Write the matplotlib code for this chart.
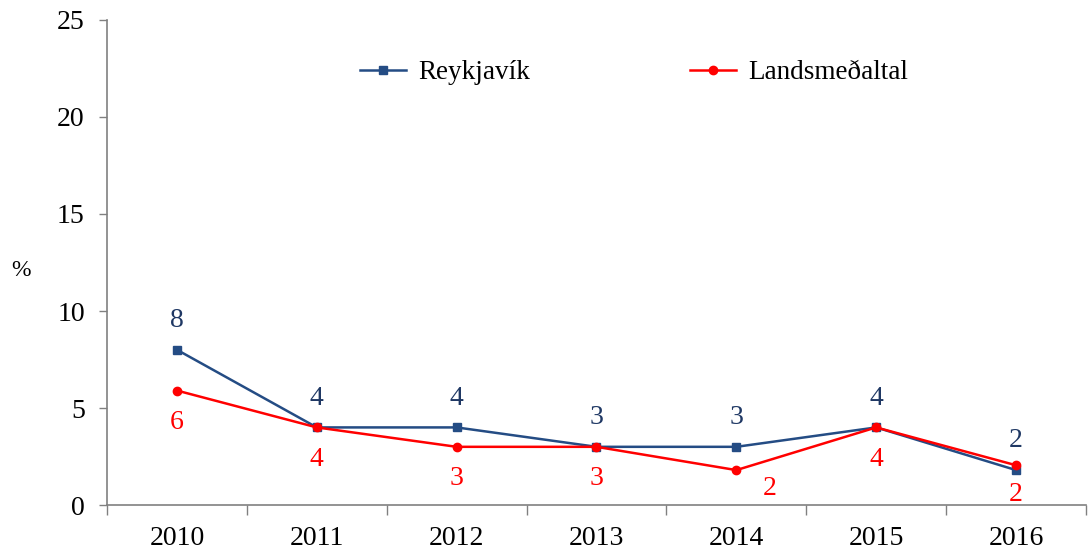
import numpy as np
import matplotlib.pyplot as plt

plt.rcParams['font.family'] = ['Liberation Serif', 'DejaVu Serif']

years = ['2010', '2011', '2012', '2013', '2014', '2015', '2016']
reykjavik = [8.0, 4.0, 4.0, 3.0, 3.0, 4.0, 1.8]
landsmedaltal = [5.9, 4.0, 3.0, 3.0, 1.8, 4.0, 2.05]
rvk_labels = ['8', '4', '4', '3', '3', '4', '2']
land_labels = ['6', '4', '3', '3', '2', '4', '2']

blue = '#244C84'
blue_txt = '#1F3864'
red = '#FF0000'

fig = plt.figure(figsize=(10.89, 5.52), dpi=100)
ax = fig.add_axes([0.0983, 0.0851, 0.8989, 0.8787])

x = np.arange(len(years))
ax.plot(x, reykjavik, color=blue, lw=1.8, marker='s', ms=6, label='Reykjavík')
ax.plot(x, landsmedaltal, color=red, lw=1.8, marker='o', ms=6, label='Landsmeðaltal')

for i in range(len(x)):
    ax.annotate(rvk_labels[i], (x[i], reykjavik[i]), xytext=(0, 12), textcoords='offset points',
                ha='center', va='bottom', fontsize=20, color=blue_txt)
    dx, dy = 0, -14
    if i == 4:
        dx, dy = 24, -4
    elif i == 6:
        dy = -12
    ax.annotate(land_labels[i], (x[i], landsmedaltal[i]), xytext=(dx, dy), textcoords='offset points',
                ha='center', va='top', fontsize=20, color=red)

ax.set_xlim(-0.5, len(years) - 0.5)
ax.set_ylim(0, 25)
ax.set_yticks([0, 5, 10, 15, 20, 25])
ax.set_xticks(x)
ax.set_xticklabels(years)
ax.set_xticks(np.arange(-0.5, len(years) + 0.5, 1), minor=True)
ax.tick_params(axis='x', which='major', length=0, labelsize=20, pad=15)
ax.tick_params(axis='x', which='minor', length=7, width=1, color='#808080', direction='out')
ax.tick_params(axis='y', length=6, width=1, color='#808080', labelsize=20, pad=10)

for s in ['top', 'right']:
    ax.spines[s].set_visible(False)
for s in ['left', 'bottom']:
    ax.spines[s].set_color('#808080')
    ax.spines[s].set_linewidth(1.2)

fig.text(0.019, 0.51, '%', fontsize=17, ha='center', va='center')

ax.legend(loc='center', bbox_to_anchor=(0.582, 0.868), bbox_transform=fig.transFigure,
          ncol=2, frameon=False, fontsize=19.5, columnspacing=5.9, handlelength=1.7,
          handletextpad=0.45)

fig.savefig('out.png', dpi=100)
